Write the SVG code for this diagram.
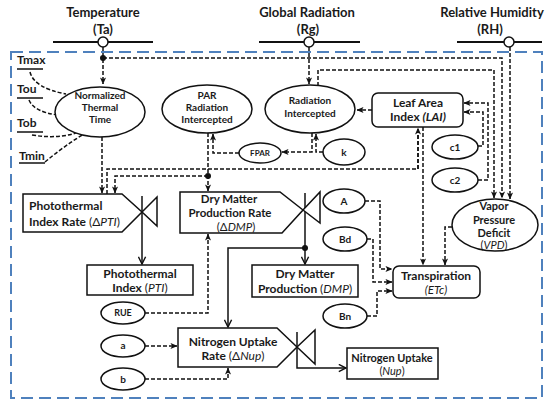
<svg xmlns="http://www.w3.org/2000/svg" width="550" height="408" viewBox="0 0 550 408">
<style>
text{font-family:Lato,"Liberation Sans","DejaVu Sans",sans-serif;font-weight:bold;fill:#1a1a1a;text-anchor:middle}
.st{text-anchor:start}
.n{font-weight:normal}
.i{font-style:italic;font-weight:normal}
.shp{fill:#fff;stroke:#111;stroke-width:1.5}
.d{fill:none;stroke:#111;stroke-width:1.5;stroke-dasharray:4 2}
.da{fill:none;stroke:#111;stroke-width:1.5;stroke-dasharray:4 2;marker-end:url(#ah)}
.s{fill:none;stroke:#111;stroke-width:1.5}
.sa{fill:none;stroke:#111;stroke-width:1.5;marker-end:url(#sh)}
.bar{stroke:#111;stroke-width:2}
.t14{font-size:13px}
.t12{font-size:12px}
.t115{font-size:11.5px}
.t11{font-size:11px}
.t10{font-size:10px}
</style>
<defs>
<marker id="ah" viewBox="0 0 8 8" refX="7.5" refY="4" markerWidth="7" markerHeight="7" orient="auto" markerUnits="userSpaceOnUse"><path d="M0,0.5 L8,4 L0,7.5 L2,4 z" fill="#111"/></marker>
<marker id="sh" viewBox="0 0 10 10" refX="9" refY="5" markerWidth="9" markerHeight="9" orient="auto" markerUnits="userSpaceOnUse"><path d="M1,1 L9,5 L1,9" fill="none" stroke="#111" stroke-width="1.6"/></marker>
</defs>
<rect width="550" height="408" fill="#fff"/>

<!-- system boundary -->
<rect x="11" y="52" width="531" height="346" fill="none" stroke="#4f81bd" stroke-width="2" stroke-dasharray="12 6"/>

<!-- drivers -->
<g id="temperature">
<text class="t14" x="103" y="17">Temperature</text>
<text class="t14" x="103" y="34">(Ta)</text>
<line class="bar" x1="53" y1="42" x2="153" y2="42"/>
<circle cx="103" cy="42" r="5" fill="#fff" stroke="#111" stroke-width="1.5"/>
</g>
<g id="global-radiation">
<text class="t14" x="307" y="17">Global Radiation</text>
<text class="t14" x="308" y="34">(Rg)</text>
<line class="bar" x1="259" y1="42" x2="360" y2="42"/>
<circle cx="309" cy="42" r="5" fill="#fff" stroke="#111" stroke-width="1.5"/>
</g>
<g id="relative-humidity">
<text class="t14" x="492" y="17">Relative Humidity</text>
<text class="t14" x="490" y="34">(RH)</text>
<line class="bar" x1="457" y1="42" x2="542" y2="42"/>
<circle cx="509" cy="42" r="5" fill="#fff" stroke="#111" stroke-width="1.5"/>
</g>

<!-- thresholds -->
<g id="tmax"><text class="t12 st" x="17" y="64">Tmax</text><line class="s" x1="17" y1="69" x2="43" y2="69"/></g>
<g id="tou"><text class="t12 st" x="17" y="93">Tou</text><line class="s" x1="17" y1="98" x2="43" y2="98"/></g>
<g id="tob"><text class="t12 st" x="17" y="127">Tob</text><line class="s" x1="17" y1="132" x2="43" y2="132"/></g>
<g id="tmin"><text class="t12 st" x="19" y="160">Tmin</text><line class="s" x1="19" y1="163" x2="45" y2="163"/></g>

<!-- connectors -->
<g id="connectors">
<path class="d" d="M30,72 Q34,88 66,94"/>
<path class="d" d="M29,100 Q34,112 58,115"/>
<path class="d" d="M32,135 Q62,140 84,130"/>
<path class="d" d="M45,162 Q64,146 87,132"/>

<path class="da" d="M103,47 V84"/>
<circle cx="103" cy="58" r="3" fill="#111"/>
<path class="da" d="M103,58 H502 V198"/>
<path class="da" d="M309,47 V84"/>
<path class="da" d="M510,47 V199"/>
<path class="da" d="M318,86 V70 H494 V198"/>

<path class="da" d="M372,110 H357"/>
<path class="da" d="M478,180 H488 V103 H464"/>
<path class="da" d="M478,146 H483 V112 H464"/>

<path class="da" d="M239,153 H213 V134"/>
<path class="da" d="M312,133 V152 H282"/>
<path class="da" d="M323,152 H316 V134"/>

<path class="da" d="M208,133 V191"/>
<circle cx="208" cy="176" r="3" fill="#111"/>
<path class="da" d="M208,176 H115 V193"/>
<path class="da" d="M102,137 V193"/>
<path class="d" d="M107,194 V169 H418 V134"/>
<path class="da" d="M418,169 V128"/>
<path class="da" d="M423,127 V265"/>
<path class="da" d="M452,227 H445 V265"/>

<path class="da" d="M365,201 H380 V269 H392"/>
<path class="da" d="M367,239 H373 V282 H392"/>
<path class="da" d="M367,316 H377 V291 H392"/>

<path class="da" d="M145,313 H208 V234"/>
<path class="da" d="M145,346 H177"/>
<path class="da" d="M145,379 H228 V368"/>

<path class="sa" d="M142,196 V264"/>
<path class="sa" d="M305,193 V264"/>
<circle cx="305" cy="248" r="3" fill="#111"/>
<path class="sa" d="M305,248 H228 V327"/>
<path class="sa" d="M297,332 V368 H346"/>
</g>

<!-- nodes -->
<g id="normalized-thermal-time">
<ellipse class="shp" cx="100" cy="112" rx="45" ry="25"/>
<text class="t10" x="100" y="99">Normalized</text>
<text class="t10" x="100" y="111">Thermal</text>
<text class="t10" x="100" y="123">Time</text>
</g>
<g id="par-radiation-intercepted">
<ellipse class="shp" cx="207" cy="109" rx="45" ry="24"/>
<text class="t10" x="207" y="99">PAR</text>
<text class="t10" x="207" y="111">Radiation</text>
<text class="t10" x="207" y="123">Intercepted</text>
</g>
<g id="radiation-intercepted">
<ellipse class="shp" cx="310" cy="109" rx="45" ry="24"/>
<text class="t10" x="310" y="104">Radiation</text>
<text class="t10" x="310" y="117">Intercepted</text>
</g>
<g id="leaf-area-index">
<rect class="shp" x="372" y="93" width="91" height="34" rx="6"/>
<text class="t12" x="418" y="107">Leaf Area</text>
<text class="t12" x="418" y="121">Index <tspan font-style="italic">(LAI)</tspan></text>
</g>
<g id="fpar">
<ellipse class="shp" cx="260" cy="153" rx="21" ry="10"/>
<text style="font-size:8px" x="260" y="156">FPAR</text>
</g>
<g id="k">
<ellipse class="shp" cx="344" cy="152" rx="21" ry="13"/>
<text class="t10" x="344" y="156">k</text>
</g>
<g id="c1">
<ellipse class="shp" cx="455" cy="147" rx="23" ry="12"/>
<text class="t10" x="455" y="151">c1</text>
</g>
<g id="c2">
<ellipse class="shp" cx="455" cy="180" rx="23" ry="12"/>
<text class="t10" x="455" y="184">c2</text>
</g>
<g id="vapor-pressure-deficit">
<ellipse class="shp" cx="495" cy="225" rx="43" ry="26"/>
<text class="t11" x="494" y="210">Vapor</text>
<text class="t11" x="494" y="224">Pressure</text>
<text class="t11" x="494" y="237">Deficit</text>
<text class="t11 n" x="494" y="249">(<tspan class="i">VPD</tspan>)</text>
</g>
<g id="photothermal-index-rate">
<path class="shp" d="M23,194 H122 L142,212 L122,232 H23 Z"/>
<path class="shp" d="M142,212 L157,197 V226 Z"/>
<text class="t12 st" x="29" y="210">Photothermal</text>
<text class="t12 st" x="29" y="226">Index Rate <tspan class="n">(Δ</tspan><tspan class="i">PTI</tspan><tspan class="n">)</tspan></text>
</g>
<g id="dry-matter-production-rate">
<path class="shp" d="M180,192 H280 L303,210 L282,233 H180 Z"/>
<path class="shp" d="M303,210 L320,192 V223 Z"/>
<text class="t115" x="229" y="203">Dry Matter</text>
<text class="t115" x="230" y="217">Production Rate</text>
<text class="t115 n" x="236" y="231">(Δ<tspan class="i">DMP</tspan>)</text>
</g>
<g id="a-param">
<ellipse class="shp" cx="344" cy="201" rx="21" ry="12"/>
<text class="t10" x="344" y="205">A</text>
</g>
<g id="bd">
<ellipse class="shp" cx="345" cy="239" rx="22" ry="12"/>
<text class="t10" x="345" y="243">Bd</text>
</g>
<g id="bn">
<ellipse class="shp" cx="345" cy="316" rx="22" ry="12"/>
<text class="t10" x="345" y="320">Bn</text>
</g>
<g id="photothermal-index">
<rect class="shp" x="87" y="265" width="106" height="30"/>
<text class="t12" x="140" y="278">Photothermal</text>
<text class="t12" x="140" y="292">Index <tspan class="n">(</tspan><tspan class="i">PTI</tspan><tspan class="n">)</tspan></text>
</g>
<g id="dry-matter-production">
<rect class="shp" x="252" y="265" width="106" height="32"/>
<text class="t12" x="305" y="278">Dry Matter</text>
<text class="t12" x="305" y="293">Production <tspan class="n">(</tspan><tspan class="i">DMP</tspan><tspan class="n">)</tspan></text>
</g>
<g id="transpiration">
<rect class="shp" x="393" y="266" width="87" height="32" rx="6"/>
<text class="t12" x="436" y="280">Transpiration</text>
<text class="t115 i" x="436" y="294">(ETc)</text>
</g>
<g id="rue">
<ellipse class="shp" cx="123" cy="313" rx="22" ry="11"/>
<text style="font-size:9px" x="123" y="316">RUE</text>
</g>
<g id="a">
<ellipse class="shp" cx="123" cy="346" rx="22" ry="11"/>
<text class="t10" x="123" y="349">a</text>
</g>
<g id="b">
<ellipse class="shp" cx="123" cy="379" rx="22" ry="11"/>
<text class="t10" x="123" y="383">b</text>
</g>
<g id="nitrogen-uptake-rate">
<path class="shp" d="M178,328 H277 L297,347 L277,367 H178 Z"/>
<path class="shp" d="M297,347 L315,330 V364 Z"/>
<text class="t12" x="233" y="346">Nitrogen Uptake</text>
<text class="t12" x="233" y="360">Rate <tspan class="n">(Δ</tspan><tspan class="i">Nup</tspan><tspan class="n">)</tspan></text>
</g>
<g id="nitrogen-uptake">
<rect class="shp" x="347" y="348" width="91" height="31"/>
<text class="t11" x="392" y="362">Nitrogen Uptake</text>
<text class="t11 n" x="392" y="375">(<tspan class="i">Nup</tspan>)</text>
</g>
</svg>
